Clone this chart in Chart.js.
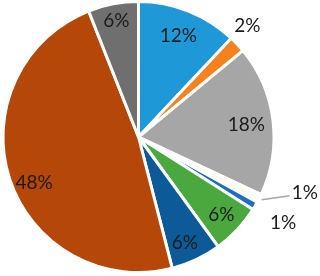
<!DOCTYPE html>
<html><head><meta charset="utf-8">
<script src="https://cdn.jsdelivr.net/npm/chart.js@4.4.1/dist/chart.umd.min.js"></script>
<style>html,body{margin:0;padding:0;background:#fff}#w{width:320px;height:276px}</style>
</head><body><div id="w"><canvas id="c" width="320" height="276"></canvas></div>
<script>
const categories = ['A','B','C','D','E','F','G','H','I'];
const values = [12, 2, 18, 1, 1, 6, 6, 48, 6];
const valueLabels = ['12%','2%','18%','1%','1%','6%','6%','48%','6%'];
const colors = ['#1f98d8','#f5821f','#a6a6a6','#fdfaf0','#1e6cc4','#4aa83e','#0c5a98','#b54708','#6f6f6f'];
// label placement (relative to outer radius) and angle shift in degrees
const labelRadius = [0.80, 1.15, 0.80, null, 1.24, 0.84, 0.85, 0.84, 0.87];
const labelShift = [0, -2.5, 1, 0, 0, 0, 1.5, -5.5, 0];

const labelPlugin = {
  id: 'lbl',
  afterDatasetsDraw(chart) {
    const ctx = chart.ctx;
    const meta = chart.getDatasetMeta(0);
    ctx.save();
    ctx.font = '19px Lato';
    ctx.fillStyle = '#1b1b1b';
    ctx.textAlign = 'center';
    ctx.textBaseline = 'middle';
    meta.data.forEach((arc, i) => {
      const mid = (arc.startAngle + arc.endAngle) / 2 + labelShift[i] * Math.PI / 180;
      const R = arc.outerRadius;
      if (labelRadius[i] === null) {
        const x0 = arc.x + Math.cos(mid) * R * 1.02;
        const y0 = arc.y + Math.sin(mid) * R * 1.02;
        const x1 = x0 + 28, y1 = y0 - 4;
        ctx.strokeStyle = '#a6a6a6';
        ctx.lineWidth = 1.5;
        ctx.beginPath(); ctx.moveTo(x0, y0); ctx.lineTo(x1, y1); ctx.stroke();
        ctx.textAlign = 'left';
        ctx.fillText(valueLabels[i], x1 + 2, y1 - 3);
        ctx.textAlign = 'center';
        return;
      }
      const r = R * labelRadius[i];
      ctx.fillText(valueLabels[i], arc.x + Math.cos(mid) * r, arc.y + Math.sin(mid) * r);
    });
    ctx.restore();
  }
};

new Chart(document.getElementById('c'), {
  type: 'pie',
  data: { labels: categories, datasets: [{ data: values, backgroundColor: colors, borderColor: '#ffffff', borderWidth: 3 }] },
  options: {
    responsive: false,
    animation: false,
    layout: { padding: { left: 1, top: 0, right: 44, bottom: 2 } },
    plugins: { legend: { display: false }, tooltip: { enabled: false } }
  },
  plugins: [labelPlugin]
});
</script></body></html>
